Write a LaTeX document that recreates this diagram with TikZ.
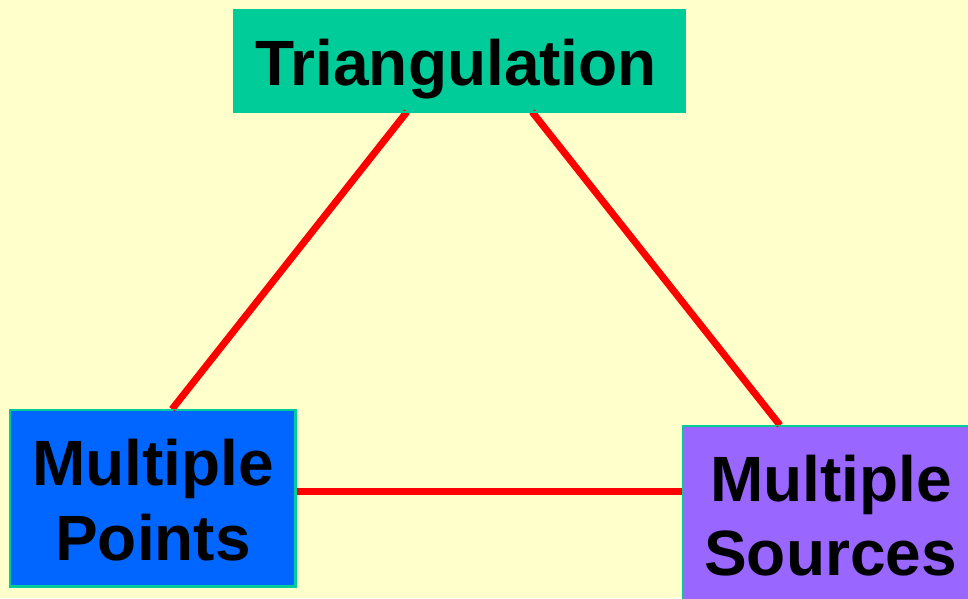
\documentclass[tikz,border=0pt]{standalone}
\usepackage{fontspec}
\setmainfont{Liberation Sans}
\definecolor{bgyellow}{HTML}{FFFFCC}
\definecolor{tealb}{HTML}{00CC99}
\definecolor{blueb}{HTML}{0066FF}
\definecolor{violetb}{HTML}{9966FF}
\definecolor{redl}{HTML}{FF0000}
\tikzset{
  boxnode/.style={draw=tealb, line width=1.5pt, inner sep=0pt, minimum width=#1},
  txt/.style={inner sep=0pt, font=\bfseries\fontsize{64}{75}\selectfont, text=black},
  link/.style={draw=redl, line width=7pt},
  outline/.style={draw=tealb, line width=1.5pt}
}
\begin{document}
\begin{tikzpicture}[x=1pt,y=-1pt]
\useasboundingbox (0,0) rectangle (968,598);
\fill[bgyellow] (0,0) rectangle (968,598);
% boxes
\node[boxnode=450pt, fill=tealb, minimum height=101pt] (tri) at (459,60.5) {};
\node[boxnode=285pt, fill=blueb, minimum height=176pt] (mp) at (152.5,498) {};
\node[boxnode=295pt, fill=violetb, minimum height=190pt] (ms) at (830.5,521) {};
% connectors
\draw[link] ([xshift=19.5pt]mp.north) -- ([xshift=-52pt]tri.south);
\draw[link] ([xshift=73pt]tri.south) -- ([xshift=-50.5pt]ms.north);
\draw[link] ([yshift=6.7pt]mp.east) -- ([yshift=6.7pt]mp.east -| ms.west);
% box outlines over line ends
\draw[outline] (tri.south west) rectangle (tri.north east);
\draw[outline] (mp.south west) rectangle (mp.north east);
\draw[outline] (ms.south west) rectangle (ms.north east);
% texts
\node[txt, anchor=base] (t1) at (456,85) {Triangulation};
\node[txt, anchor=base] (t2) at (153,485) {Multiple};
\node[txt, anchor=base] (t3) at (153,560) {Points};
\node[txt, anchor=base] (t4) at (831,501) {Multiple};
\node[txt, anchor=base] (t5) at (830.5,575) {Sources};
\end{tikzpicture}
\end{document}
